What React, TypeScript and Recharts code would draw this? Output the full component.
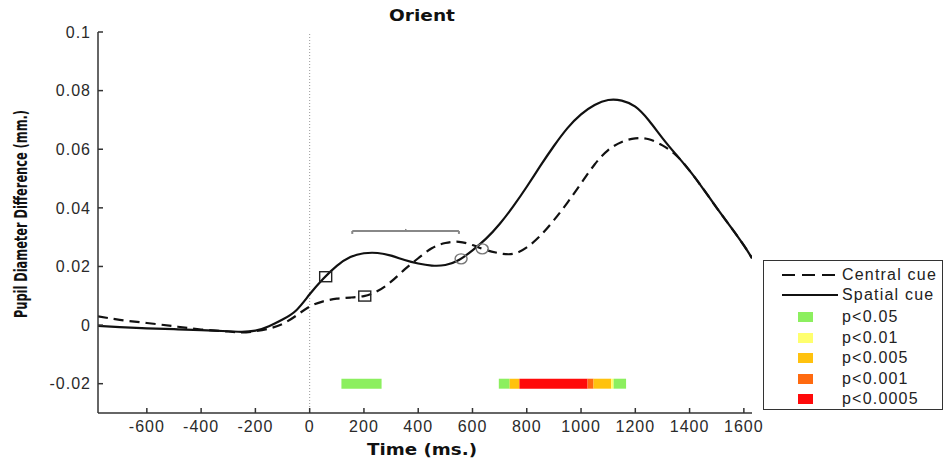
import { ComposedChart, Line, Scatter, XAxis, YAxis, ReferenceLine, ReferenceArea } from 'recharts';

// time points (ms) and pupil difference (mm)
const times = [-780, -700, -600, -500, -400, -300, -250, -200, -150, -100, -50, 0, 50, 100, 150, 200, 250, 300, 350, 400, 450, 500, 550, 600, 650, 700, 750, 800, 850, 900, 950, 1000, 1050, 1100, 1150, 1200, 1250, 1300, 1350, 1400, 1450, 1500, 1550, 1600, 1630];
const spatialCue = [-0.0003, -0.0007, -0.0011, -0.0014, -0.0017, -0.0021, -0.0023, -0.0019, -0.0004, 0.0019, 0.005, 0.0105, 0.0158, 0.0202, 0.0232, 0.0245, 0.0246, 0.0237, 0.0222, 0.021, 0.0203, 0.0205, 0.0222, 0.0255, 0.0295, 0.0345, 0.0405, 0.0472, 0.0543, 0.0611, 0.0672, 0.0719, 0.0751, 0.0768, 0.0766, 0.0745, 0.0698, 0.0638, 0.0582, 0.0527, 0.0465, 0.04, 0.0337, 0.0272, 0.0228];
const centralCue = [0.003, 0.0018, 0.0007, -0.0004, -0.0015, -0.0022, -0.0025, -0.0021, -0.0012, 0.0004, 0.0032, 0.0063, 0.0081, 0.009, 0.0094, 0.0099, 0.0116, 0.0148, 0.019, 0.0228, 0.0262, 0.028, 0.0284, 0.0273, 0.0256, 0.0245, 0.0243, 0.0265, 0.0305, 0.0358, 0.0418, 0.0483, 0.0548, 0.0597, 0.0625, 0.0637, 0.0634, 0.0613, 0.058, 0.0527, 0.0465, 0.04, 0.0337, 0.0272, 0.0228];

const xTicks = [-600, -400, -200, 0, 200, 400, 600, 800, 1000, 1200, 1400, 1600];
const yTicks = [-0.02, 0, 0.02, 0.04, 0.06, 0.08, 0.1];

// markers
const squareMarks = [{ t: 59, v: 0.0165 }, { t: 203, v: 0.0099 }];
const circleMarks = [{ t: 558, v: 0.0226 }, { t: 636, v: 0.026 }];

// significance bands along y = -0.02
const sigStart = [117, 697, 737, 773, 1024, 1046, 1111, 1120];
const sigEnd = [265, 737, 773, 1024, 1046, 1111, 1120, 1166];
const sigLevel = ['p<0.05', 'p<0.05', 'p<0.005', 'p<0.0005', 'p<0.001', 'p<0.005', 'p<0.01', 'p<0.05'];

const pLabels = ['p<0.05', 'p<0.01', 'p<0.005', 'p<0.001', 'p<0.0005'];
const pColors = ['#8cef5f', '#ffff6e', '#ffc20e', '#ff6a10', '#ff0a0a'];

// gray bracket above curves
const bracketX = [157, 550];
const bracketY = 0.0321;

const data = times.map((t, i) => ({ t, spatial: spatialCue[i], central: centralCue[i] }));

const tickStyle = { fontFamily: 'Liberation Sans, Arial, sans-serif', fontSize: 16, fill: '#2a2a2a', letterSpacing: 1 };

const Square = (p: any) => <rect x={p.cx - 6} y={p.cy - 5} width={12} height={10} fill="none" stroke="#222" strokeWidth={1.4} />;
const Circle = (p: any) => <ellipse cx={p.cx} cy={p.cy} rx={6} ry={5} fill="none" stroke="#777" strokeWidth={1.4} />;

const App = () => {
  return (
    <div style={styles.page}>
      <ComposedChart width={948} height={460} data={data} margin={{ top: 32, right: 196, bottom: 17, left: 38 }}>
        <XAxis dataKey="t" type="number" domain={[-780, 1630]} ticks={xTicks} allowDataOverflow
          height={30} tickSize={-5} tickMargin={13} tick={tickStyle} stroke="#333" strokeWidth={1.5} />
        <XAxis xAxisId="top" orientation="top" type="number" domain={[-780, 1630]} ticks={xTicks} allowDataOverflow
          height={0} tickSize={-5} tick={false} stroke="#333" strokeWidth={1.5} />
        <YAxis type="number" domain={[-0.03, 0.1]} ticks={yTicks} allowDataOverflow
          width={60} tickSize={-5} tickMargin={12} tick={tickStyle} stroke="#333" strokeWidth={1.5} />
        <YAxis yAxisId="right" orientation="right" type="number" domain={[-0.03, 0.1]} ticks={yTicks} allowDataOverflow
          width={0} tickSize={-5} tick={false} stroke="#333" strokeWidth={1.5} />

        <ReferenceLine x={0} stroke="#999" strokeDasharray="1 2" />

        {sigStart.map((s, i) => (
          <ReferenceArea key={i} x1={s} x2={sigEnd[i]} y1={-0.0217} y2={-0.0183}
            fill={pColors[pLabels.indexOf(sigLevel[i])]} fillOpacity={1} stroke="none" />
        ))}

        <ReferenceLine segment={[{ x: bracketX[0], y: bracketY }, { x: bracketX[1], y: bracketY }]} stroke="#888" strokeWidth={2} />
        <ReferenceLine segment={[{ x: bracketX[0], y: bracketY }, { x: bracketX[0], y: bracketY - 0.001 }]} stroke="#888" strokeWidth={2} />
        <ReferenceLine segment={[{ x: bracketX[1], y: bracketY }, { x: bracketX[1], y: bracketY - 0.001 }]} stroke="#888" strokeWidth={2} />
        <ReferenceLine segment={[{ x: 354, y: bracketY }, { x: 354, y: bracketY + 0.0007 }]} stroke="#888" strokeWidth={1.5} />

        <Line type="natural" dataKey="central" stroke="#111" strokeWidth={2.2} strokeDasharray="10 6" dot={false} isAnimationActive={false} />
        <Line type="natural" dataKey="spatial" stroke="#111" strokeWidth={2.2} dot={false} isAnimationActive={false} />
        <Scatter data={squareMarks} dataKey="v" shape={Square} isAnimationActive={false} />
        <Scatter data={circleMarks} dataKey="v" shape={Circle} isAnimationActive={false} />
      </ComposedChart>

      <svg style={styles.overlay} width={948} height={460}>
        <text x={422} y={21} textAnchor="middle" fontFamily="DejaVu Sans, sans-serif" fontWeight="bold" fontSize={15}
          textLength={66} lengthAdjust="spacingAndGlyphs" fill="#111">Orient</text>
        <text x={422} y={455} textAnchor="middle" fontFamily="DejaVu Sans, sans-serif" fontWeight="bold" fontSize={16}
          textLength={110} lengthAdjust="spacingAndGlyphs" fill="#111">Time (ms.)</text>
        <text x={0} y={0} transform="translate(27,214) rotate(-90)" textAnchor="middle"
          fontFamily="Liberation Sans Narrow, DejaVu Sans Condensed, sans-serif" fontWeight="bold" fontSize={17}
          textLength={208} lengthAdjust="spacingAndGlyphs" fill="#111">Pupil Diameter Difference (mm.)</text>
      </svg>

      <div style={styles.legend}>
        <div style={{ ...styles.row, top: 4 }}>
          <svg width={60} height={20} style={styles.sample}><line x1={2} y1={10} x2={58} y2={10} stroke="#111" strokeWidth={2.2} strokeDasharray="13 7" /></svg>
          <span style={styles.label}>Central cue</span>
        </div>
        <div style={{ ...styles.row, top: 24 }}>
          <svg width={60} height={20} style={styles.sample}><line x1={2} y1={10} x2={58} y2={10} stroke="#111" strokeWidth={2.2} /></svg>
          <span style={styles.label}>Spatial cue</span>
        </div>
        {pLabels.map((p, i) => (
          <div key={p} style={{ ...styles.row, top: 46 + i * 20.6 }}>
            <div style={{ ...styles.swatch, background: pColors[i] }} />
            <span style={styles.label}>{p}</span>
          </div>
        ))}
      </div>
    </div>
  );
};

const styles: any = {
  page: { position: 'fixed', left: 0, top: 0, width: 948, height: 460, background: '#fff' },
  overlay: { position: 'absolute', left: 0, top: 0, pointerEvents: 'none' },
  legend: { position: 'absolute', left: 763, top: 260, width: 180, height: 150, border: '1.5px solid #333', background: '#fff', boxSizing: 'border-box' },
  row: { position: 'absolute', left: 0, height: 20, width: 180 },
  sample: { position: 'absolute', left: 16, top: 0 },
  swatch: { position: 'absolute', left: 34, top: 5, width: 15, height: 10 },
  label: { position: 'absolute', left: 78, top: 0, lineHeight: '20px', fontFamily: 'Liberation Sans, Arial, sans-serif', fontSize: 16, color: '#222', letterSpacing: 1.2, whiteSpace: 'nowrap' },
};

export default App;
